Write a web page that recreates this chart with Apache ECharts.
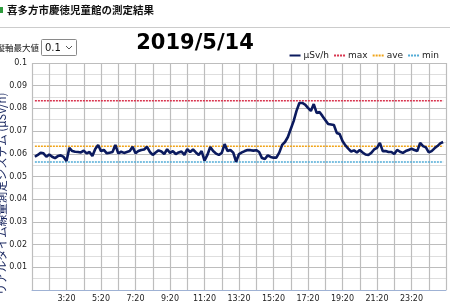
<!DOCTYPE html>
<html><head><meta charset="utf-8">
<script src="https://cdn.jsdelivr.net/npm/echarts@6/dist/echarts.min.js"></script>
<style>html,body{margin:0;padding:0;background:#fff}#c{width:450px;height:306px}</style>
</head><body><div id="c"></div>
<script>
// ---- data ----
var startHour = 1, startMin = 20, stepMin = 10, pointCount = 145;
var categories = [];
for (var k = 0; k < pointCount; k++) {
  var t = (startHour * 60 + startMin + k * stepMin) % 1440;
  categories.push(Math.floor(t / 60) + ':' + ('0' + (t % 60)).slice(-2));
}
var doseRate = [
  0.0587,0.0595,0.0605,0.0602,0.0587,0.0597,0.0587,0.0581,0.0590,0.0593,
  0.0586,0.0568,0.0626,0.0612,0.0609,0.0608,0.0606,0.0614,0.0602,0.0608,
  0.0590,0.0621,0.0639,0.0612,0.0617,0.0602,0.0605,0.0608,0.0639,0.0602,
  0.0609,0.0604,0.0608,0.0612,0.0631,0.0602,0.0612,0.0617,0.0619,0.0631,
  0.0608,0.0595,0.0606,0.0615,0.0610,0.0599,0.0620,0.0604,0.0612,0.0599,
  0.0606,0.0610,0.0595,0.0621,0.0608,0.0619,0.0606,0.0595,0.0612,0.0570,
  0.0595,0.0630,0.0612,0.0601,0.0595,0.0604,0.0643,0.0612,0.0617,0.0605,
  0.0565,0.0599,0.0606,0.0612,0.0617,0.0616,0.0614,0.0616,0.0608,0.0581,
  0.0577,0.0593,0.0586,0.0583,0.0583,0.0605,0.0639,0.0652,0.0674,0.0709,
  0.0744,0.0789,0.0824,0.0824,0.0817,0.0802,0.0789,0.0819,0.0780,0.0784,
  0.0767,0.0749,0.0731,0.0729,0.0727,0.0692,0.0687,0.0656,0.0637,0.0623,
  0.0610,0.0615,0.0606,0.0617,0.0606,0.0597,0.0595,0.0604,0.0619,0.0626,
  0.0648,0.0612,0.0612,0.0608,0.0608,0.0599,0.0617,0.0609,0.0604,0.0612,
  0.0617,0.0622,0.0617,0.0612,0.0648,0.0634,0.0628,0.0606,0.0612,0.0624,
  0.0634,0.0646,0.0652
];
var maxLevel = 0.0834;
var aveLevel = 0.0633;
var minLevel = 0.0564;
var yMin = 0, yMax = 0.1, yStep = 0.01;
var titleText = '喜多方市慶徳児童館の測定結果';
var dateText = '2019/5/14';
var selectLabel = '縦軸最大値';
var selectValue = '0.1';
var yAxisTitle = 'リアルタイム線量測定システム (μSv/h)';
var seriesNames = ['μSv/h', 'max', 'ave', 'min'];

// ---- chart ----
var firstIdx = 1, lastIdx = 143;
var mainData = [null].concat(doseRate);
while (mainData.length < pointCount) mainData.push(null);
function flat(v) { return [[categories[firstIdx], v], [categories[lastIdx], v]]; }

var chart = echarts.init(document.getElementById('c'), null, {renderer: 'canvas'});
var baseFont = 'DejaVu Sans';
chart.setOption({
  animation: false,
  backgroundColor: '#fff',
  textStyle: {fontFamily: baseFont},
  grid: {left: 32, right: 4, top: 63, bottom: 16, containLabel: false},
  legend: {
    right: 6, top: 46, itemWidth: 11, itemHeight: 8, itemGap: 4,
    itemStyle: {color: 'rgba(0,0,0,0)', borderWidth: 0, opacity: 0},
    textStyle: {fontSize: 9, color: '#222', fontFamily: baseFont, padding: [0, 0, 0, -2]},
    data: seriesNames
  },
  xAxis: {
    type: 'category', data: categories, boundaryGap: false,
    axisLine: {lineStyle: {color: '#9fb2d4', width: 1}},
    axisTick: {show: false},
    axisLabel: {
      fontSize: 8, color: '#222', margin: 5, fontFamily: baseFont,
      interval: function (i) { return i % 12 === 0 && i > 0 && i < pointCount - 1; }
    },
    splitLine: {show: true, interval: function (i) { return i % 6 === 0; },
      lineStyle: {color: '#bdbdbd', width: 1.2}}
  },
  yAxis: {
    type: 'value', min: yMin, max: yMax, interval: yStep,
    axisLine: {show: false}, axisTick: {show: false},
    axisLabel: {fontSize: 8, color: '#222', margin: 5, showMinLabel: false, fontFamily: baseFont,
      formatter: function (v) { return String(Math.round(v * 100) / 100); }},
    splitLine: {show: true, lineStyle: {color: '#bdbdbd', width: 1.2}},
    minorTick: {show: false, splitNumber: 2},
    minorSplitLine: {show: true, lineStyle: {color: '#dedede', width: 1}}
  },
  series: [
    {name: seriesNames[0], type: 'line', data: mainData, symbol: 'none', z: 5,
      lineStyle: {color: '#0b1a5e', width: 2.6}, itemStyle: {color: '#0b1a5e'}},
    {name: seriesNames[1], type: 'line', data: flat(maxLevel), symbol: 'none',
      lineStyle: {color: '#d8344e', width: 1.6, type: [2, 1]}, itemStyle: {color: '#d8344e'}},
    {name: seriesNames[2], type: 'line', data: flat(aveLevel), symbol: 'none',
      lineStyle: {color: '#f0a418', width: 1.6, type: [2, 1]}, itemStyle: {color: '#f0a418'}},
    {name: seriesNames[3], type: 'line', data: flat(minLevel), symbol: 'none',
      lineStyle: {color: '#52acd6', width: 1.6, type: [2, 1]}, itemStyle: {color: '#52acd6'}}
  ],
  graphic: [
    {type: 'rect', shape: {x: 0, y: 7, width: 3, height: 6}, style: {fill: '#2e9b3c'}},
    {type: 'text', x: 7, y: 10, style: {text: titleText, fontSize: 10.5, fontWeight: 'bold',
      fontFamily: 'Noto Sans CJK JP', fill: '#111', textVerticalAlign: 'middle', verticalAlign: 'middle'}},
    {type: 'line', shape: {x1: 0, y1: 27.5, x2: 450, y2: 27.5}, style: {stroke: '#cccccc', lineWidth: 1}},
    {type: 'text', x: 39, y: 48, style: {text: selectLabel, fontSize: 8.5, fontFamily: 'Noto Sans CJK JP',
      fill: '#111', align: 'right', textAlign: 'right', verticalAlign: 'middle', textVerticalAlign: 'middle'}},
    {type: 'rect', shape: {x: 41.5, y: 39.5, width: 35, height: 16, r: 1},
      style: {fill: '#fff', stroke: '#8a8a8a', lineWidth: 1}},
    {type: 'text', x: 45, y: 48, style: {text: selectValue, fontSize: 10, fontFamily: baseFont,
      fill: '#111', verticalAlign: 'middle', textVerticalAlign: 'middle'}},
    {type: 'polyline', shape: {points: [[66, 46], [69, 49], [72, 46]]},
      style: {stroke: '#555', lineWidth: 1, fill: null}},
    {type: 'text', x: 195, y: 44, style: {text: dateText, fontSize: 21, fontWeight: 'bold',
      fontFamily: baseFont, fill: '#000', align: 'center', textAlign: 'center',
      verticalAlign: 'middle', textVerticalAlign: 'middle'}},
    {type: 'text', x: 1.5, y: 194, rotation: Math.PI / 2, style: {text: yAxisTitle, fontSize: 11.5,
      fontFamily: 'Noto Sans CJK JP', fill: '#16245e', align: 'center', textAlign: 'center',
      verticalAlign: 'middle', textVerticalAlign: 'middle'}}
  ]
});
</script></body></html>
